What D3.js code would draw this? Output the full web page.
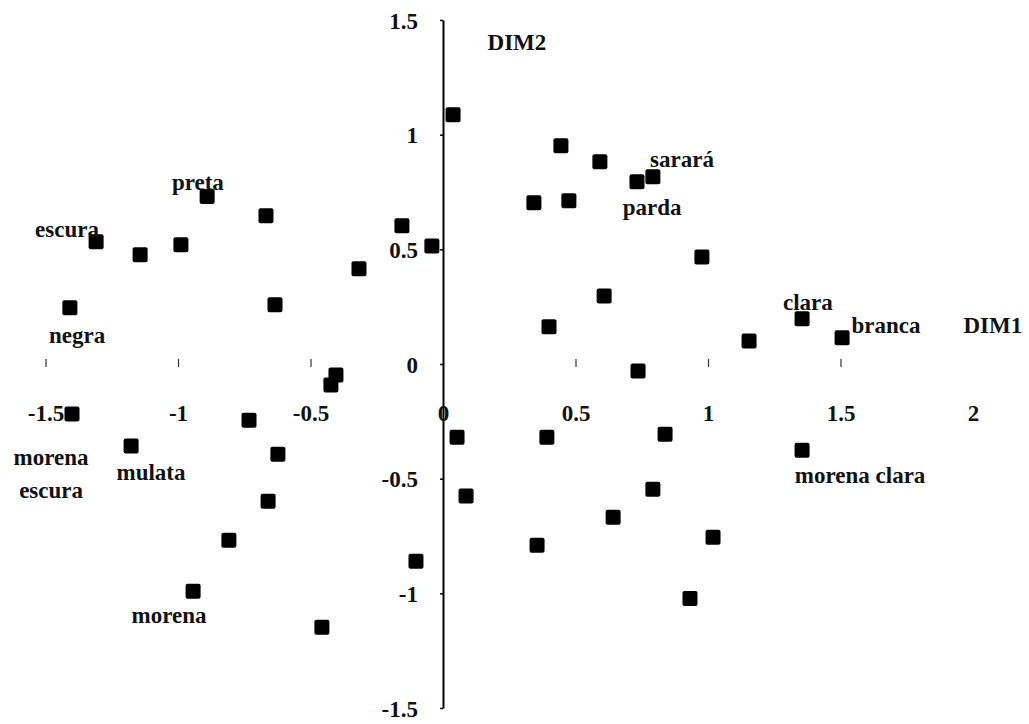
<!DOCTYPE html>
<html>
<head>
<meta charset="utf-8">
<script src="https://cdn.jsdelivr.net/npm/d3@7"></script>
<style>
  html, body { margin: 0; padding: 0; background: #fff; }
  svg text { font-family: "Liberation Serif", "DejaVu Serif", serif; font-weight: bold; fill: #111; }
</style>
</head>
<body>
<svg id="chart" width="1029" height="724"></svg>
<script>
// ---- data ----
const dim1 = [0.038, -0.89, -0.668, -1.309, -1.143, -0.989, -0.155, -0.042, -0.317, -1.408,
  -0.634, -0.404, -0.423, -1.40, -1.177, -0.732, -0.623, -0.660, -0.808, -0.943,
  -0.457, 0.053, 0.087, -0.102, 0.445, 0.592, 0.732, 0.792, 0.343, 0.475,
  0.977, 0.608, 0.400, 1.355, 1.506, 1.155, 0.736, 0.392, 0.838, 1.355,
  0.792, 0.642, 0.355, 1.019, 0.932];
const dim2 = [1.087, 0.73, 0.646, 0.533, 0.476, 0.520, 0.603, 0.515, 0.415, 0.245,
  0.258, -0.048, -0.092, -0.218, -0.358, -0.245, -0.393, -0.598, -0.769, -0.991,
  -1.148, -0.319, -0.576, -0.860, 0.952, 0.882, 0.795, 0.817, 0.703, 0.712,
  0.467, 0.297, 0.162, 0.197, 0.114, 0.100, -0.031, -0.319, -0.306, -0.376,
  -0.546, -0.668, -0.790, -0.755, -1.022];

const xTicks = [-1.5, -1, -0.5, 0, 0.5, 1, 1.5, 2];
const yTicks = [-1.5, -1, -0.5, 0, 0.5, 1, 1.5];

// category labels placed at data coordinates (center, baseline)
const labelText = ["preta", "escura", "negra", "morena", "escura", "mulata", "morena",
  "sarará", "parda", "clara", "branca", "morena clara", "DIM1", "DIM2"];
const labelDim1 = [-0.925, -1.419, -1.381, -1.479, -1.479, -1.102, -1.034,
  0.902, 0.789, 1.377, 1.672, 1.574, 2.075, 0.279];
const labelDim2 = [0.760, 0.555, 0.092, -0.441, -0.585, -0.507, -1.131,
  0.860, 0.651, 0.236, 0.135, -0.520, 0.135, 1.371];

// ---- drawing ----
const svg = d3.select("#chart");
const x = d3.scaleLinear().domain([-1.5, 2]).range([45.5, 973]);
const y = d3.scaleLinear().domain([-1.5, 1.5]).range([708, 20]);
const fmt = d => String(d);

// x axis: no visible line, only small tick marks, labels well below
const xAxis = d3.axisBottom(x).tickValues(xTicks)
  .tickFormat(fmt)
  .tickSizeInner(-8).tickSizeOuter(0).tickPadding(42);
const gx = svg.append("g").attr("transform", `translate(0,${y(0) + 3})`).call(xAxis);
gx.select(".domain").remove();
gx.selectAll(".tick line").attr("stroke", "#333").attr("stroke-width", 1.2)
  .filter(d => d === 0 || d === 2).remove();
gx.selectAll(".tick text").style("font-size", "23px").attr("dy", "0.35em").attr("y", 46);

// y axis: vertical line at x=0
const yAxis = d3.axisLeft(y).tickValues(yTicks)
  .tickFormat(fmt)
  .tickSizeInner(3).tickSizeOuter(0).tickPadding(22);
const gy = svg.append("g").attr("transform", `translate(${x(0)},0)`).call(yAxis);
gy.select(".domain").attr("stroke", "#000").attr("stroke-width", 2);
gy.selectAll(".tick line").attr("stroke", "#000").attr("stroke-width", 1.5);
gy.selectAll(".tick text").style("font-size", "23px").attr("dy", "0.35em");

// points: filled squares
const pts = dim1.map((d, i) => ({ x: d, y: dim2[i] }));
const s = 15;
svg.append("g").selectAll("rect").data(pts).join("rect")
  .attr("x", d => x(d.x) - s / 2)
  .attr("y", d => y(d.y) - s / 2)
  .attr("width", s).attr("height", s)
  .attr("rx", 2)
  .attr("fill", "#000");

// labels
const labels = labelText.map((t, i) => ({ t, x: labelDim1[i], y: labelDim2[i] }));
svg.append("g").selectAll("text").data(labels).join("text")
  .attr("x", d => x(d.x)).attr("y", d => y(d.y))
  .attr("text-anchor", "middle")
  .style("font-size", "23px")
  .text(d => d.t);
</script>
</body>
</html>
